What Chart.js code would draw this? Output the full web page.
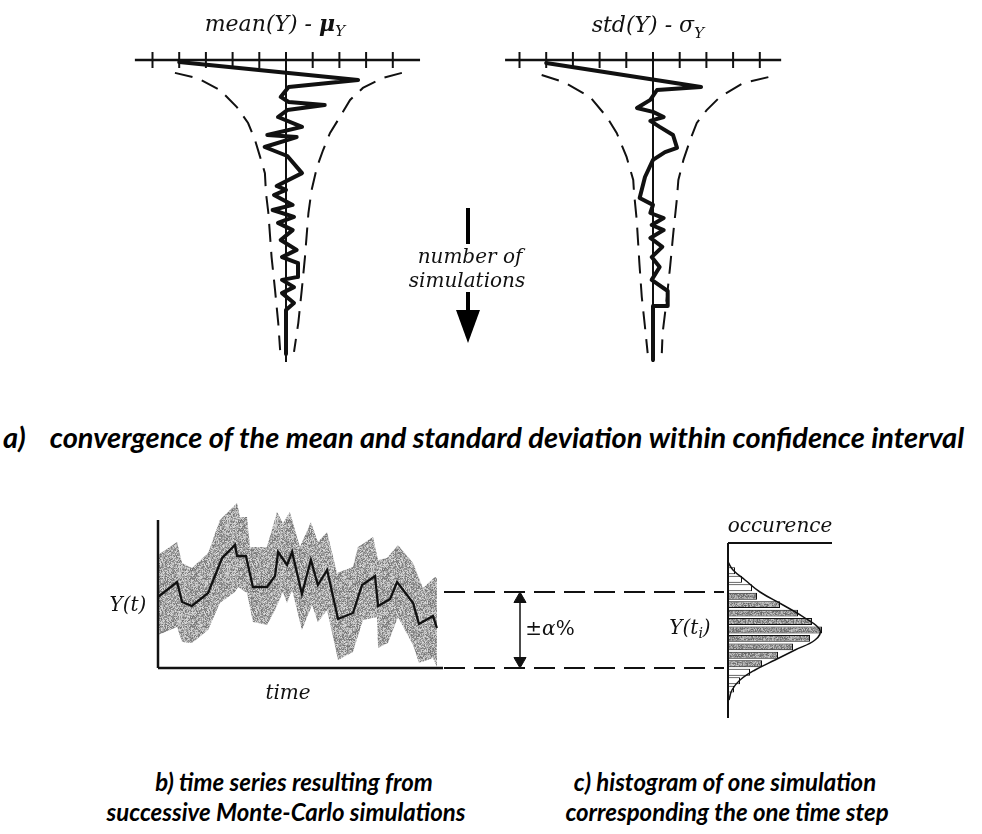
<!DOCTYPE html>
<html>
<head>
<meta charset="utf-8">
<script src="https://cdn.jsdelivr.net/npm/chart.js@4.4.1/dist/chart.umd.min.js"></script>
<style>
  body { margin: 0; width: 982px; height: 834px; background: #fff; position: relative; overflow: hidden; }
  canvas { position: absolute; }
  .lbl { position: absolute; font-family: "DejaVu Serif", serif; font-style: italic; color: #111; white-space: nowrap; transform: translate(-50%, -50%); font-size: 20px; }
  .lbl sub { font-size: 70%; vertical-align: -0.35em; }
  .cap { position: absolute; font-family: Lato, sans-serif; font-weight: bold; font-style: italic; color: #000; white-space: nowrap; }
  .mark { position: absolute; background: #000; }
</style>
</head>
<body>
<canvas id="meanChart" width="320" height="340" style="left:120px;top:40px"></canvas>
<canvas id="stdChart" width="320" height="340" style="left:490px;top:40px"></canvas>
<canvas id="seriesChart" width="360" height="240" style="left:100px;top:480px"></canvas>
<canvas id="histChart" width="400" height="240" style="left:440px;top:480px"></canvas>

<div class="lbl" style="left:275px;top:25px;font-size:22px">mean(Y) - <b>μ</b><sub>Y</sub></div>
<div class="lbl" style="left:648px;top:27px;font-size:22px">std(Y) - σ<sub>Y</sub></div>

<div class="mark" style="left:466px;top:208px;width:4px;height:36px"></div>
<div class="lbl" style="left:470px;top:256px">number of</div>
<div class="lbl" style="left:467px;top:280px">simulations</div>
<div class="mark" style="left:466px;top:292px;width:4px;height:20px"></div>
<div style="position:absolute;left:456px;top:310px;width:0;height:0;border-left:12px solid transparent;border-right:12px solid transparent;border-top:33px solid #000"></div>

<div class="cap" style="left:3px;top:419px;font-size:29px">a)<span style="margin-left:24px">convergence of the mean and standard deviation within confidence interval</span></div>

<div class="lbl" style="left:128px;top:604px">Y(t)</div>
<div class="lbl" style="left:288px;top:692px">time</div>
<div class="lbl" style="left:550px;top:628px;font-style:normal">±<i>α</i>%</div>
<div class="lbl" style="left:690px;top:628px">Y(t<sub>i</sub>)</div>
<div class="lbl" style="left:780px;top:525px">occurence</div>

<div class="cap" style="left:294px;top:767px;font-size:24px;transform:translateX(-50%)">b) time series resulting from</div>
<div class="cap" style="left:286px;top:797px;font-size:24px;transform:translateX(-50%)">successive Monte-Carlo simulations</div>
<div class="cap" style="left:725px;top:767px;font-size:24px;transform:translateX(-50%)">c) histogram of one simulation</div>
<div class="cap" style="left:727px;top:797px;font-size:24px;transform:translateX(-50%)">corresponding the one time step</div>

<script>
// ---- convergence panels: [deviation, number of simulations] ----
const devTicks = [-5, -4, -3, -2, -1, 0, 1, 2, 3, 4];
const simCount = 100.7;

const meanPath = [[-4.0, 0.7], [2.7, 6.7], [0.1, 9], [-0.2, 12.3], [0.1, 14], [1.45, 15], [0.05, 16.7],
  [-0.3, 19], [0.6, 22.3], [-0.7, 25], [0.4, 25.7], [-0.8, 29], [0.05, 32], [0.6, 37.7], [-0.35, 42],
  [0.0, 43.3], [-0.45, 45], [0.25, 48.3], [-0.5, 50], [0.3, 52.3], [-0.3, 54.3], [0.25, 56.7], [-0.2, 60],
  [0.4, 63.3], [-0.15, 65.7], [0.45, 67.7], [0.45, 72.3], [-0.15, 73.3], [0.3, 75.7], [-0.15, 77.7],
  [0.3, 81], [0.0, 83.3], [0.0, 98]];
const meanLow = [[-4.16, 4.3], [-3.33, 6], [-2.47, 10], [-1.84, 15.7], [-1.42, 21], [-1.16, 26.7],
  [-0.97, 32.3], [-0.79, 37.7], [-0.75, 44.3], [-0.66, 51], [-0.54, 65.7], [-0.41, 76.7], [-0.29, 87.7], [-0.22, 96.7]];
const meanHigh = [[4.34, 4.3], [3.63, 6], [2.88, 9.3], [2.40, 13.3], [2.02, 19], [1.65, 24.3], [1.39, 30],
  [1.16, 35.7], [0.96, 43.3], [0.84, 51], [0.71, 65.7], [0.59, 76.7], [0.46, 87.7], [0.30, 97.3]];

const stdPath = [[-4.0, 1], [1.8, 9], [0.15, 10], [-0.1, 13.3], [-0.6, 16], [0.0, 17.3], [0.4, 19],
  [-0.1, 20.3], [0.25, 22.3], [0.75, 25], [0.9, 29.3], [0.45, 30.7], [0.0, 33.3], [-0.3, 39], [-0.5, 46],
  [0.0, 48.3], [-0.1, 51], [0.4, 52.7], [-0.05, 55], [0.4, 56.7], [-0.1, 59.3], [0.35, 62.3], [-0.05, 65.7],
  [0.25, 69], [-0.05, 73.3], [0.55, 77], [0.55, 82], [0.0, 82], [0.0, 100]];
const stdLow = [[-4.17, 5], [-3.36, 7.3], [-2.36, 12.3], [-1.73, 19], [-1.36, 24.3], [-0.99, 32.3],
  [-0.74, 40], [-0.71, 44.3], [-0.61, 53.3], [-0.51, 67.7], [-0.42, 79], [-0.3, 89], [-0.2, 97.7]];
const stdHigh = [[4.32, 5.7], [3.38, 7.7], [2.51, 12.3], [2.01, 16.7], [1.64, 21], [1.39, 26.7], [1.14, 33.3],
  [0.95, 40], [0.89, 46.7], [0.76, 57.7], [0.64, 69], [0.51, 80], [0.36, 91], [0.33, 97.7]];

// ---- time series ----
const timeSteps = [0, 6.8, 8.6, 12.1, 17.9, 22.9, 27.5, 28.2, 31.4, 33.9, 38.9, 41.8, 42.9, 46.1, 47.9,
  51.4, 54.6, 57.1, 60.4, 64.3, 69.6, 72.9, 77.5, 78.6, 82.9, 85.4, 91.1, 93.2, 98.2, 99.6];
const seriesY = [7.1, 8.6, 6.6, 6.2, 7.5, 11.0, 12.3, 11.2, 11.2, 8.1, 8.1, 9.2, 11.6, 10.3, 11.6,
  7.4, 10.8, 8.3, 9.8, 4.9, 5.5, 8.3, 9.2, 6.2, 6.9, 8.6, 6.5, 4.4, 5.2, 4.0];
const upperT = [0, 6.8, 8.6, 12.1, 17.9, 22.1, 28.2, 29.3, 31.8, 32.9, 38.9, 42.5, 44.6, 47.1, 50.7,
  54.6, 57.1, 60.4, 63.9, 69.6, 71.4, 76.8, 78.6, 81.8, 85.7, 91.1, 94.6, 98.9, 99.6];
const upperY = [11.3, 12.6, 10.5, 10.0, 11.5, 14.8, 16.5, 15.1, 15.1, 12.1, 12.1, 15.6, 14.5, 15.6, 12.1,
  14.6, 12.6, 13.6, 9.5, 10.1, 12.1, 13.1, 10.8, 11.0, 12.3, 10.5, 8.0, 9.1, 9.0];
const lowerT = [0, 6.8, 8.6, 12.1, 17.9, 22.1, 27.5, 28.6, 31.8, 33.9, 38.9, 41.8, 44.6, 46.1, 47.9,
  51.4, 55.0, 57.1, 60.4, 64.3, 69.6, 73.2, 78.2, 78.6, 82.1, 85.7, 91.1, 93.2, 98.2, 99.6];
const lowerY = [3.3, 4.1, 2.6, 2.5, 3.8, 6.5, 7.6, 8.1, 7.5, 4.6, 4.3, 5.8, 7.6, 6.5, 7.8,
  3.8, 6.3, 4.6, 5.8, 0.8, 1.6, 4.8, 5.1, 2.0, 2.5, 5.1, 2.3, 0.5, 1.0, 0.1];
const timeEnd = 101.8, yTop = 14.8;

// ---- histogram at one time step ----
const alphaLow = 0, alphaHigh = 7.6;
const binCenters = [-2.11, -1.27, -0.42, 0.42, 1.27, 2.11, 2.96, 3.80, 4.65, 5.49, 6.34, 7.18, 8.03, 8.87, 9.72];
const binCounts = [1.5, 3, 5.5, 8.5, 12.5, 16.25, 20.5, 23.5, 21, 17.5, 13, 7.25, 6, 3.5, 1.75];
const densityOcc = [0, 1.25, 4.25, 8, 13.75, 19.25, 23, 21.75, 16.75, 11.75, 6.75, 3, 1, 0.25];
const densityY = [10.6, 9.8, 8.8, 7.6, 6.3, 5.0, 3.8, 2.8, 1.8, 0.8, -0.2, -1.2, -2.2, -3.2];
const occTop = 12.5, occBottom = -5.0, occEnd = 26, guideFrom = -71, guideTo = -1, arrowAt = -52;

// ---- helpers ----
const pts = a => a.map(([x, y]) => ({ x, y }));
const zip = (xs, ys) => xs.map((x, i) => ({ x, y: ys[i] }));
const INK = '#111';

// axis range so that `origin` lands at pixel `originPx` of a canvas starting at `startPx`
function range(startPx, sizePx, originPx, pxPerUnit) {
  const min = (startPx - originPx) / pxPerUnit;
  return { min, max: min + sizePx / pxPerUnit };
}

function speckle(base, spread) {
  const c = document.createElement('canvas');
  c.width = c.height = 48;
  const g = c.getContext('2d');
  const img = g.createImageData(48, 48);
  let s = 2024;
  for (let i = 0; i < img.data.length; i += 4) {
    s = (Math.imul(s, 1103515245) + 12345) >>> 0;
    const v = base + ((s >>> 16) % (2 * spread)) - spread;
    img.data[i] = img.data[i + 1] = img.data[i + 2] = v;
    img.data[i + 3] = 255;
  }
  g.putImageData(img, 0, 0);
  return g.createPattern(c, 'repeat');
}

function baseOptions(xr, yr, reverse) {
  return {
    responsive: false,
    animation: false,
    events: [],
    layout: { padding: 0, autoPadding: false },
    plugins: { legend: { display: false }, tooltip: { enabled: false } },
    elements: {
      line: { borderColor: INK, borderWidth: 2, fill: false, tension: 0 },
      point: { radius: 0, borderColor: INK, backgroundColor: INK }
    },
    scales: {
      x: { type: 'linear', display: false, offset: false, min: xr.min, max: xr.max },
      y: { type: 'linear', display: false, offset: false, min: yr.min, max: yr.max, reverse: !!reverse }
    }
  };
}

function convergenceChart(id, path, low, high, left, originPx, axisFrom, axisTo) {
  const xr = range(left, 320, originPx, 26.7);
  const yr = range(40, 340, 60, 3);
  return new Chart(document.getElementById(id), {
    type: 'line',
    data: {
      datasets: [
        { data: pts(low), borderDash: [18, 10], borderWidth: 2, clip: false, order: 2 },
        { data: pts(high), borderDash: [18, 10], borderWidth: 2, clip: false, order: 2 },
        { data: [{ x: 0, y: 0 }, { x: 0, y: simCount }], borderWidth: 2, order: 1 },
        { data: pts(path), borderWidth: 4, borderJoinStyle: 'round', borderCapStyle: 'round', order: 0 },
        { data: [{ x: axisFrom, y: 0 }, { x: axisTo, y: 0 }], borderWidth: 2.5, order: 1 },
        { data: devTicks.map(x => ({ x, y: 0 })), showLine: false, pointStyle: 'line', rotation: 90,
          pointRadius: 8, pointBorderWidth: 2, order: 1 }
      ]
    },
    options: baseOptions(xr, yr, true)
  });
}

convergenceChart('meanChart', meanPath, meanLow, meanHigh, 120, 286, -5.66, 5.02);
convergenceChart('stdChart', stdPath, stdLow, stdHigh, 490, 653, -5.54, 4.8);

// time series with its spread band (band drawn underneath)
new Chart(document.getElementById('seriesChart'), {
  type: 'line',
  data: {
    datasets: [
      { data: zip(upperT, upperY), borderWidth: 0, fill: '+1', backgroundColor: speckle(168, 55), order: 3 },
      { data: zip(lowerT, lowerY), borderWidth: 0, order: 3 },
      { data: zip(timeSteps, seriesY), borderWidth: 2.3, order: 0 },
      { data: [{ x: 0, y: 0 }, { x: 0, y: yTop }], borderWidth: 2.5, order: 1 },
      { data: [{ x: 0, y: 0 }, { x: timeEnd, y: 0 }], borderWidth: 2.5, order: 1 }
    ]
  },
  options: baseOptions(range(100, 360, 158, 2.8), range(-720, 240, -668, 10))
});

// histogram of Y at t_i, drawn sideways
const histOpts = baseOptions(range(440, 400, 728, 4), range(-720, 240, -668, 10));
new Chart(document.getElementById('histChart'), {
  data: {
    datasets: [
      { type: 'bar', indexAxis: 'y', data: zip(binCounts, binCenters),
        backgroundColor: ctx => {
          const y = binCenters[ctx.dataIndex];
          return (y > alphaLow && y < alphaHigh) ? speckle(150, 50) : '#fff';
        },
        borderColor: INK, borderWidth: 1, barPercentage: 0.82, categoryPercentage: 1, order: 2 },
      { type: 'line', data: zip(densityOcc, densityY), borderWidth: 1.5, tension: 0.4, order: 1 },
      { type: 'line', data: [{ x: 0, y: occTop }, { x: 0, y: occBottom }], borderWidth: 2, order: 0 },
      { type: 'line', data: [{ x: 0, y: occTop }, { x: occEnd, y: occTop }], borderWidth: 2, order: 0 },
      { type: 'line', data: [{ x: guideFrom, y: alphaHigh }, { x: guideTo, y: alphaHigh }], borderWidth: 2, borderDash: [21, 9], order: 0 },
      { type: 'line', data: [{ x: guideFrom, y: alphaLow }, { x: guideTo, y: alphaLow }], borderWidth: 2, borderDash: [21, 9], order: 0 },
      { type: 'line', data: [{ x: arrowAt, y: alphaLow + 0.9 }, { x: arrowAt, y: alphaHigh - 0.9 }], borderWidth: 1.5, order: 0 },
      { type: 'line', showLine: false, order: 0, pointStyle: 'triangle', pointRadius: 7,
        rotation: [0, 180], data: [{ x: arrowAt, y: alphaHigh - 0.7 }, { x: arrowAt, y: alphaLow + 0.7 }] }
    ]
  },
  options: histOpts
});
</script>
</body>
</html>
